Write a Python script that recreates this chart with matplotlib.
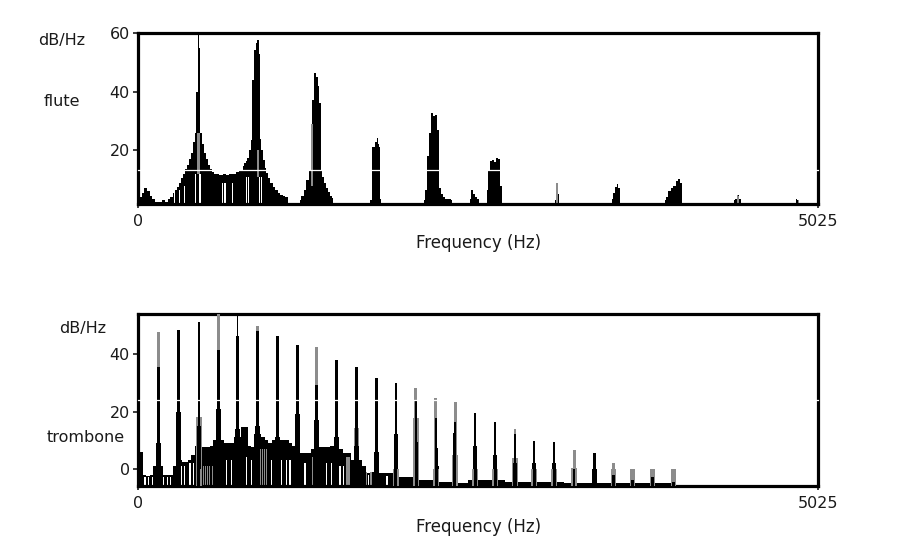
import matplotlib
matplotlib.use("Agg")
import matplotlib.pyplot as plt

# ---------------- data: flute ----------------
flute_hz = [15, 37, 59, 74, 96, 118, 140, 163, 185, 207,
            229, 251, 266, 281, 296, 310, 325, 340, 355, 370,
            384, 399, 414, 425, 436, 446, 455, 466, 480, 495,
            510, 525, 539, 554, 569, 591, 613, 636, 658, 680,
            702, 717, 732, 754, 766, 779, 791, 803, 815, 828,
            840, 852, 865, 877, 887, 896, 906, 918, 930, 943,
            956, 970, 988, 1006, 1025, 1043, 1062, 1080, 1099, 1111,
            1190, 1197, 1219, 1234, 1256, 1271, 1282, 1293, 1308, 1323,
            1334, 1345, 1356, 1367, 1382, 1397, 1411, 1426, 1441, 1448,
            1714, 1722, 1729, 1744, 1759, 1766, 1774, 1785, 1792, 1803,
            2106, 2114, 2128, 2143, 2158, 2170, 2188, 2202, 2217, 2232,
            2247, 2261, 2276, 2306, 2320, 2328,
            2446, 2454, 2468, 2483, 2498, 2513, 2520,
            2572, 2579, 2594, 2609, 2624, 2638, 2653, 2668, 2683, 2694,
            3074, 3082, 3096, 3107, 3122,
            3496, 3503, 3518, 3533, 3545, 3555, 3570,
            3887, 3895, 3909, 3931, 3946, 3968, 3983, 3998, 4013, 4020,
            4397, 4405, 4420, 4434, 4449, 4456,
            4855, 4863, 4877, 4885]
flute_db = [4, 5.5, 7, 6, 4.5, 3.5, 2.5, 2.5, 3, 2.5,
            3.5, 4, 5.5, 6.5, 7.5, 9, 10.5, 12, 13.5, 15,
            17, 19, 23, 26, 40, 60, 55, 26, 22, 19,
            17, 15, 13.5, 12.5, 12, 12, 11.5, 12, 11.5, 12,
            12, 12, 12.5, 13, 13.3, 14.5, 15.6, 16.5, 17.3, 20,
            23.6, 44, 54.3, 56.6, 57.5, 53, 24, 20, 16.8, 14,
            12.2, 10.5, 8.8, 7.5, 6.5, 5.5, 4.8, 4.5, 4.2, 1.7,
            1.7, 3, 4.5, 6.5, 10, 13.3, 29, 37, 46.3, 45,
            42, 36, 13.3, 11, 8.8, 7, 5.9, 4.5, 3.6, 1.7,
            1.7, 3, 21, 21.3, 23, 24.2, 22, 21, 3.5, 1.7,
            1.7, 3.1, 6.5, 18, 25.9, 32.7, 31.6, 32, 27, 7.1,
            5, 4.2, 3.5, 3.5, 3, 1.7,
            1.7, 3.5, 6.5, 5, 4.2, 3.5, 1.7,
            1.7, 6.5, 12.8, 16.2, 16.8, 16, 17.3, 17, 8, 1.7,
            1.7, 3, 6, 5, 1.7,
            1.7, 3.5, 5.5, 7.5, 8.5, 7, 1.7,
            1.7, 3, 4, 6, 7.1, 8, 9.4, 10.3, 9, 1.7,
            1.7, 3, 3.5, 4.8, 3.5, 1.7,
            1.7, 3.4, 3, 1.7]
# lighter (grey) columns and white gaps in the flute spectrum
flute_gray_hz = [441, 451, 880, 890, 1282, 1289, 3096, 3103, 4427, 4436, 4880]
flute_gray_lo = [12, 12, 11, 11, 8, 8, 2, 2, 2, 2, 2]
flute_gray_hi = [26, 26, 20, 20, 29, 29, 8.8, 8, 4.8, 4.5, 3]
flute_white_hz = [273, 310, 347, 428, 436, 456, 464, 606, 621, 636, 650, 665, 680, 695,
                  800, 815, 835, 850, 900, 915]
flute_white_hi = [6, 6.5, 8, 12, 12, 12, 12, 9, 9, 9, 9, 9, 9, 9,
                  11, 11, 11, 11, 11, 11]

# ---------------- data: trombone ----------------
trb_hz = [150, 298, 451, 593, 734, 882, 1029, 1177, 1321, 1468, 1616, 1764, 1907, 2054,
          2202, 2343, 2490, 2638, 2786, 2926, 3074, 3222, 3372, 3512, 3656, 3801, 3956]
trb_black = [35.7, 48.5, 51.4, 41.5, 46.5, 48, 46.3, 43.2, 29.3, 38, 35.5, 31.8, 29.9, 24,
             17.7, 16.5, 19.4, 16.5, 12, 9.7, 9.2, 0, 5.4, -2, -4, -3, -4.5]
trb_gray = [47.9, 0, 0, 54.1, 0, 49.8, 0, 0, 42.6, 0, 0, 0, 0, 28.3,
            24.6, 23.5, 0, 0, 13.8, 0, 0, 6.6, 0, 2.0, -0.4, -3, -3]
trb_shoulder = [9, 20, 15, 21, 14, 15, 11, 19, 17, 11, 8, 6, 12, 9.5,
                7.2, 12.4, 8, 5, 2, 2, 2, -6, 0, -6, -6, -6, -6]
trb_gshoulder = [0, 0, 18, 0, 0, 0, 0, 0, 0, 0, 14.2, 0, 0, 17.7,
                 0, 4.9, 0, 0, 3.9, 0, 0, 0.2, 0, 0, 0, 0, 0]
trb_thin_hz = [734]
trb_thin_top = [54.1]
trb_noise_hz = [15, 30, 45, 70, 100, 125, 140, 150, 160, 175,
                200, 225, 250, 270, 285, 298, 315, 335, 355, 380,
                410, 430, 451, 470, 495, 520, 545, 565, 593, 620,
                645, 670, 700, 720, 734, 750, 770, 800, 820, 845,
                865, 882, 900, 925, 950, 975, 1000, 1029, 1050, 1075,
                1100, 1125, 1150, 1177, 1200, 1230, 1260, 1290, 1321, 1345,
                1375, 1400, 1440, 1468, 1500, 1530, 1560, 1590, 1616, 1640,
                1670, 1700, 1730, 1764, 1790, 1830, 1870, 1907, 1940, 1980,
                2020, 2054, 2090, 2130, 2170, 2202, 2240, 2280, 2320, 2343,
                2380, 2490, 2638, 2786, 2926, 3074, 3222, 3372, 3512, 3656,
                3801, 3956, 4000]
trb_noise_db = [6, 6, -2, -2.5, -2, 1, 5.5, 9, 5.5, 1,
                -2, -2, -2, 1, 3, 6, 3, 2.5, 2.5, 3,
                5, 8, 11, 7.5, 7.7, 7.7, 8, 10, 12.4, 10,
                8.9, 8.9, 9, 11, 13, 11, 14.7, 14.7, 8, 7.5,
                12, 14.7, 12, 11, 10, 9, 10, 11.2, 10, 10,
                10, 9, 8, 8, 5.4, 5.4, 5.4, 7, 8, 7.7,
                7.7, 7.7, 8, 11, 7, 5.4, 5.4, 3, 4, 3,
                1, -1.5, -1, 1, -1.5, -1.5, -1.5, 2, -2.7, -2.7,
                -2.7, 1, -4, -4, -4, 1, -4.5, -4.5, -4.5, -1,
                -5, -4, -4, -4.5, -4.5, -4.5, -5, -5, -5, -5,
                -5, -5, -6]
trb_white_hz = [52, 80, 110, 190, 215, 240, 323, 347, 384, 409, 471, 655, 692, 803, 840,
                988, 1062, 1099, 1123, 1234, 1394, 1431, 1493, 1517, 1700, 1840]
trb_white_hi = [-3, -3, -3, -3, -3, -3, 1, 1, 2, 2, 3, 3, 3, 4, 3,
                3, 3, 3, 3, 2, 2, 2, 1, 1, -2, -2.5]
trb_gray_hz = [485, 500, 515, 530, 550, 905, 920, 935, 950, 1290, 1305, 1320,
               1545, 1560, 1690, 1720]
trb_gray_hi = [1, 1, 1, 1, 1, 7, 7, 7, 7, 4, 4, 4, 4, 4, -1, -1]

XMAX = 5025
FLUTE_YLIM = (1.7, 60)
TRB_YLIM = (-6, 54.1)
GRAY = "#8c8c8c"
INK = "#1a1a1a"

fig = plt.figure(figsize=(9.0, 5.52), dpi=100)
W, H = 900.0, 552.0


def frame(rect):
    l, t, r, b = rect
    return fig.add_axes([l / W, 1 - b / H, (r - l) / W, (b - t) / H])


def style(ax, ylim, yticks):
    ax.set_xlim(0, XMAX)
    ax.set_ylim(*ylim)
    ax.set_xticks([0, XMAX])
    ax.set_xticklabels(["0", "5025"])
    ax.set_yticks(yticks)
    ax.set_yticklabels([str(v) for v in yticks])
    for s in ax.spines.values():
        s.set_linewidth(2.3)
        s.set_color("black")
    ax.tick_params(axis="y", length=3.5, width=1.2, pad=2.5, labelsize=11.5, colors=INK)
    ax.tick_params(axis="x", length=3, width=1.2, pad=4.5, labelsize=11.5, colors=INK)
    for lab in ax.get_xticklabels() + ax.get_yticklabels():
        lab.set_fontfamily("DejaVu Sans")


# ---- flute panel ----
ax1 = frame((138, 33, 818, 204))
lo = FLUTE_YLIM[0]
ax1.fill_between(flute_hz, lo, flute_db, step="mid", color="black", lw=0)
ax1.bar(flute_white_hz, [h - lo for h in flute_white_hi], bottom=lo, width=7,
        color="white", lw=0, zorder=2)
ax1.bar(flute_gray_hz, [h - l for h, l in zip(flute_gray_hi, flute_gray_lo)],
        bottom=flute_gray_lo, width=8, color=GRAY, lw=0, zorder=2)
style(ax1, FLUTE_YLIM, [20, 40, 60])
ax1.axhline(13.3, color="white", lw=0.9, zorder=6, clip_on=False)

# ---- trombone panel ----
ax2 = frame((138, 314, 818, 486))
lo = TRB_YLIM[0]
ax2.fill_between(trb_noise_hz, lo, trb_noise_db, step="mid", color="black", lw=0)
ax2.bar(trb_white_hz, [h - lo for h in trb_white_hi], bottom=lo, width=8,
        color="white", lw=0, zorder=2)
ax2.bar(trb_gray_hz, [h - lo for h in trb_gray_hi], bottom=lo, width=11,
        color=GRAY, lw=0, zorder=2)
ax2.bar(trb_hz, [max(h - lo, 0) for h in trb_gshoulder], bottom=lo, width=40,
        color=GRAY, lw=0, zorder=3)
ax2.bar(trb_hz, [max(h - lo, 0) for h in trb_shoulder], bottom=lo, width=34,
        color="black", lw=0, zorder=3)
ax2.bar(trb_hz, [max(h - lo, 0) for h in trb_gray], bottom=lo, width=22,
        color=GRAY, lw=0, zorder=4)
ax2.bar(trb_hz, [max(h - lo, 0) for h in trb_black], bottom=lo, width=20,
        color="black", lw=0, zorder=4)
ax2.bar(trb_thin_hz, [h - lo for h in trb_thin_top], bottom=lo, width=8,
        color="black", lw=0, zorder=4)
style(ax2, TRB_YLIM, [0, 20, 40])
ax2.axhline(24.1, color="white", lw=0.9, zorder=6, clip_on=False)

# ---- labels ----
def label(x, y, s, size=11.5):
    fig.text(x / W, 1 - y / H, s, ha="center", va="center", fontsize=size,
             color=INK, family="DejaVu Sans")

label(62, 40, "dB/Hz")
label(62, 101, "flute")
label(479, 243, "Frequency (Hz)", 12)
label(83, 329, "dB/Hz")
label(86, 438, "trombone")
label(479, 527, "Frequency (Hz)", 12)

fig.savefig("out.png", dpi=100)
